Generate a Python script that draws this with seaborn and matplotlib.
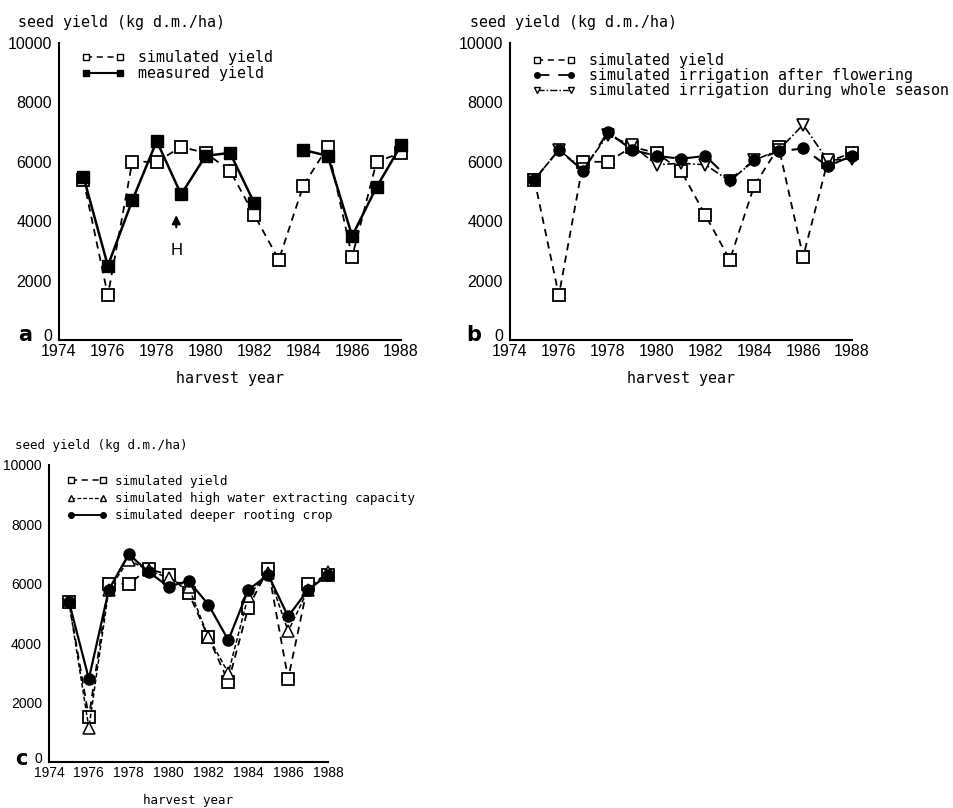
import numpy as np
import pandas as pd
import matplotlib
matplotlib.use("Agg")
import matplotlib.pyplot as plt
from matplotlib.lines import Line2D
from matplotlib.ticker import MultipleLocator
from matplotlib.transforms import ScaledTranslation
import seaborn as sns

# ---------------- data ----------------
years = list(range(1975, 1989))
sim_yield = [5400, 1500, 6000, 6000, 6500, 6300, 5700, 4200, 2700, 5200, 6500, 2800, 6000, 6300]
measured = [5500, 2500, 4700, 6700, 4900, 6200, 6300, 4600, np.nan, 6400, 6200, 3500, 5150, 6550]
irr_flower = [5400, 6400, 5700, 7000, 6400, 6200, 6100, 6200, 5400, 6050, 6350, 6450, 5850, 6200]
irr_season = [5400, 6400, 5750, 6900, 6550, 5900, 5950, 5900, 5350, 6050, 6400, 7250, 6050, 6100]
high_water = [5400, 1150, 5800, 6800, 6450, 6200, 5900, 4200, 3000, 5600, 6350, 4400, 5800, 6400]
deep_root = [5400, 2800, 5800, 7000, 6400, 5900, 6100, 5300, 4100, 5800, 6300, 4900, 5800, 6300]

xtick_labels = [str(y) for y in range(1974, 1989, 2)]
ytick_labels = [str(v) for v in range(0, 10001, 2000)]

sns.set_style("white")
MONO = "DejaVu Sans Mono"
NARROW = ["Liberation Sans Narrow", "Liberation Sans", "DejaVu Sans"]
plt.rcParams["font.family"] = ["DejaVu Sans"]
for k in ["text.color", "axes.labelcolor", "xtick.color", "ytick.color", "axes.edgecolor"]:
    plt.rcParams[k] = "black"


def frame(values):
    df = pd.DataFrame({"year": years, "value": values})
    # split into segments at gaps so missing years break the line
    df["seg"] = df["value"].isna().cumsum()
    return df.dropna()


STY = {
    "sim": dict(ls=(0, (4, 3)), lw=1.3, marker="s", ms=8.5, mfc="white", mec="k", mew=1.3),
    "meas": dict(ls="-", lw=1.8, marker="s", ms=8.5, mfc="k", mec="k", mew=1.0),
    "flow": dict(ls=(0, (7, 5)), lw=1.5, marker="o", ms=8, mfc="k", mec="k", mew=1.0),
    "seas": dict(ls=(0, (5, 1.5, 1, 1.5)), lw=1.2, marker="v", ms=9, mfc="white", mec="k", mew=1.2),
    "high": dict(ls=(0, (3, 1.5)), lw=1.1, marker="^", ms=9, mfc="white", mec="k", mew=1.1),
    "deep": dict(ls="-", lw=1.6, marker="o", ms=8, mfc="k", mec="k", mew=1.0),
}


def draw(ax, values, key):
    s = STY[key]
    df = frame(values)
    sns.lineplot(data=df, x="year", y="value", units="seg", estimator=None, ax=ax,
                 color="k", linestyle=s["ls"], linewidth=s["lw"], marker=s["marker"],
                 markersize=s["ms"], markerfacecolor=s["mfc"], markeredgecolor=s["mec"],
                 markeredgewidth=s["mew"], clip_on=False, legend=False)


def handle(key):
    s = STY[key]
    return Line2D([], [], color="k", linestyle=s["ls"], linewidth=s["lw"] * 0.85,
                  marker=s["marker"], markersize=4, markerfacecolor=s["mfc"],
                  markeredgecolor="k", markeredgewidth=1.0)


def style_axes(ax, fs_tick):
    ax.set_xlim(1974, 1988)
    ax.set_ylim(0, 10000)
    ax.set_xticks(range(1974, 1989, 2))
    ax.set_xticklabels(xtick_labels, family=NARROW, fontsize=fs_tick, color="k")
    ax.xaxis.set_minor_locator(MultipleLocator(1))
    ax.set_yticks(range(0, 10001, 2000))
    ax.set_yticklabels(ytick_labels, family=NARROW, fontsize=fs_tick, color="k")
    ax.yaxis.set_minor_locator(MultipleLocator(1000))
    ax.tick_params(axis="x", which="both", direction="in", length=4, width=1.2, pad=3, colors="k")
    ax.tick_params(axis="y", which="major", direction="in", length=7, width=1.2, pad=5, colors="k")
    ax.tick_params(axis="y", which="minor", direction="in", length=4, width=1.2, colors="k")
    for sp in ["top", "right"]:
        ax.spines[sp].set_visible(False)
    for sp in ["left", "bottom"]:
        ax.spines[sp].set_color("k")
        ax.spines[sp].set_linewidth(1.5)
    ax.set_xlabel("")
    ax.set_ylabel("")
    # lift the "0" label a little so it sits above the first year label
    zero = ax.get_yticklabels()[0]
    zero.set_transform(zero.get_transform() + ScaledTranslation(0, 3.5 / 72, fig.dpi_scale_trans))


W, H = 954, 808
fig = plt.figure(figsize=(W / 100, H / 100), dpi=100)
fig.patch.set_facecolor("white")


def axes_px(left, right, top, bottom):
    return fig.add_axes([left / W, 1 - bottom / H, (right - left) / W, (bottom - top) / H])


ax_a = axes_px(59, 401, 43, 340)
ax_b = axes_px(510, 852, 43, 340)
ax_c = axes_px(49, 328, 465, 762)

# panel a
draw(ax_a, sim_yield, "sim")
draw(ax_a, measured, "meas")
style_axes(ax_a, 11.5)
ax_a.annotate("", xy=(1978.8, 4300), xytext=(1978.8, 3700),
              arrowprops=dict(arrowstyle="-|>,head_length=0.5,head_width=0.25", color="k", lw=1.5))
ax_a.text(1978.8, 3000, "H", ha="center", va="center", fontsize=12, family=NARROW)
ax_a.legend([handle("sim"), handle("meas")], ["simulated yield", "measured yield"],
            loc="upper left", bbox_to_anchor=(0.065, 0.975), frameon=False, numpoints=2,
            handlelength=2.9, handletextpad=0.9, labelspacing=0.05, borderpad=0, borderaxespad=0,
            prop={"family": MONO, "size": 10.8})

# panel b
draw(ax_b, sim_yield, "sim")
draw(ax_b, irr_season, "seas")
draw(ax_b, irr_flower, "flow")
style_axes(ax_b, 11.5)
ax_b.legend([handle("sim"), handle("flow"), handle("seas")],
            ["simulated yield", "simulated irrigation after flowering",
             "simulated irrigation during whole season"],
            loc="upper left", bbox_to_anchor=(0.065, 0.965), frameon=False, numpoints=2,
            handlelength=2.9, handletextpad=0.9, labelspacing=0.0, borderpad=0, borderaxespad=0,
            prop={"family": MONO, "size": 10.8})

# panel c
draw(ax_c, sim_yield, "sim")
draw(ax_c, high_water, "high")
draw(ax_c, deep_root, "deep")
style_axes(ax_c, 10)
ax_c.legend([handle("sim"), handle("high"), handle("deep")],
            ["simulated yield", "simulated high water extracting capacity",
             "simulated deeper rooting crop"],
            loc="upper left", bbox_to_anchor=(0.065, 0.968), frameon=False, numpoints=2,
            handlelength=3.2, handletextpad=0.6, labelspacing=0.35, borderpad=0, borderaxespad=0,
            prop={"family": MONO, "size": 9})

# axis titles
ylab = "seed yield (kg d.m./ha)"
fig.text(18 / W, 1 - 23 / H, ylab, ha="left", va="center", family=MONO, fontsize=10.8)
fig.text(470 / W, 1 - 23 / H, ylab, ha="left", va="center", family=MONO, fontsize=10.8)
fig.text(15 / W, 1 - 445 / H, ylab, ha="left", va="center", family=MONO, fontsize=9)

for ax, fs in [(ax_a, 10.8), (ax_b, 10.8), (ax_c, 9)]:
    ax.text(0.5, -0.128, "harvest year", transform=ax.transAxes, ha="center", va="center",
            family=MONO, fontsize=fs)

# panel letters
fig.text(25 / W, 1 - 335 / H, "a", ha="center", va="center", fontsize=15, fontweight="bold")
fig.text(474 / W, 1 - 335 / H, "b", ha="center", va="center", fontsize=15, fontweight="bold")
fig.text(21 / W, 1 - 759 / H, "c", ha="center", va="center", fontsize=15, fontweight="bold")

fig.savefig("out.png", dpi=100, facecolor="white")
